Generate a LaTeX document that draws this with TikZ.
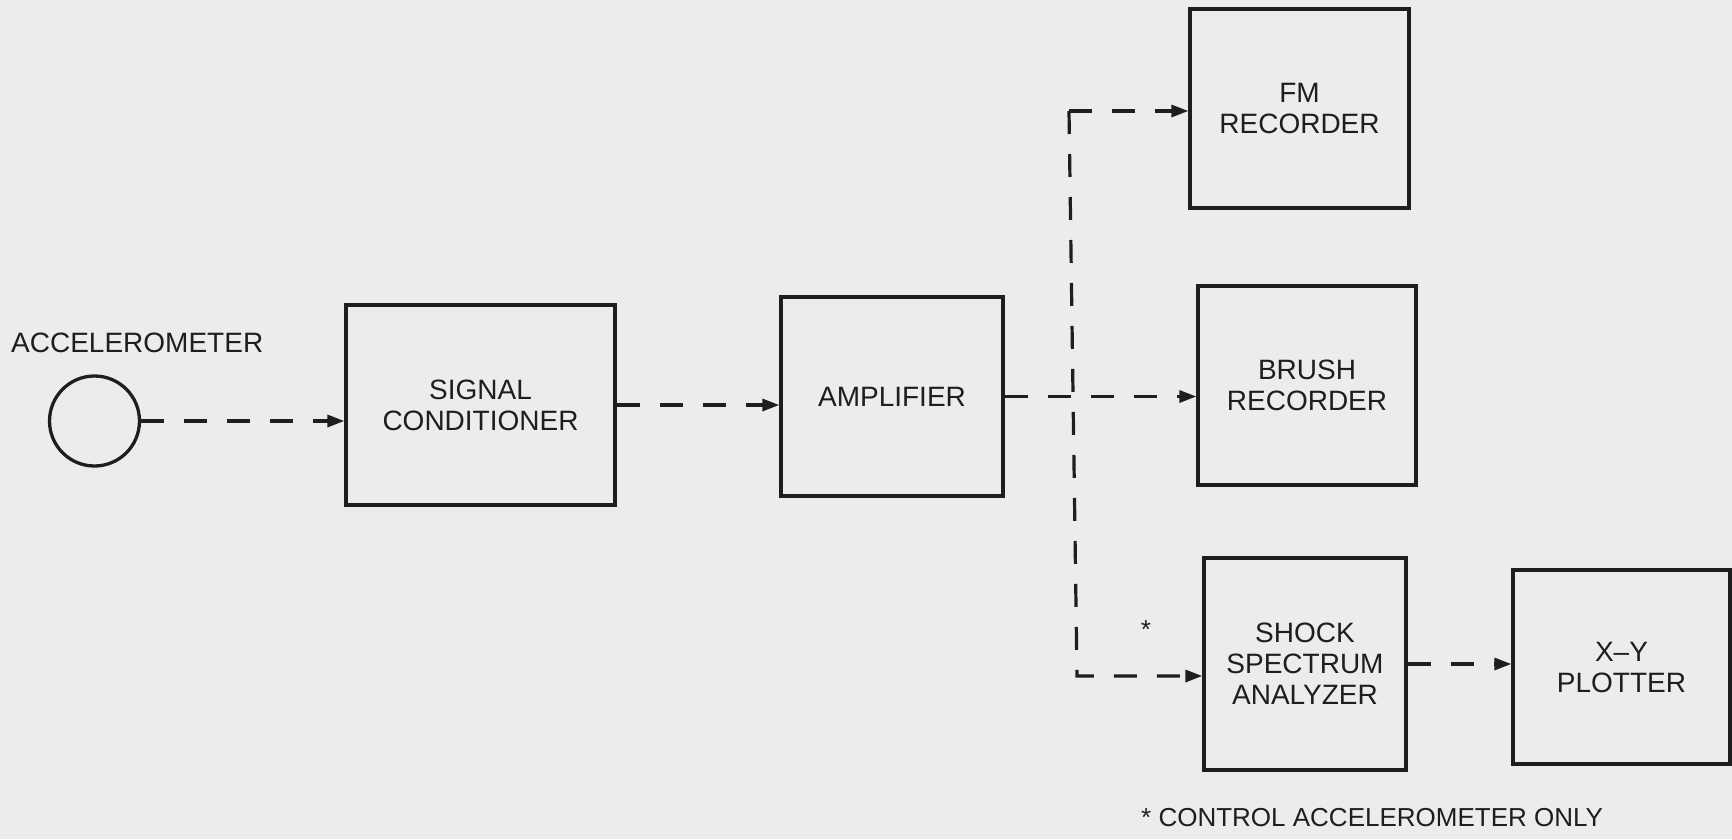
\documentclass[tikz,border=0pt]{standalone}
\usepackage{fontspec}
\setmainfont{Liberation Sans}
\usetikzlibrary{arrows.meta}
\definecolor{ink}{HTML}{1E1E1E}
\definecolor{paper}{HTML}{ECECEC}
\begin{document}
\begin{tikzpicture}[x=1pt,y=-1pt,
  lbl/.style={font=\fontsize{28}{31}\selectfont, text=ink, align=center, inner sep=0pt},
  blk/.style={lbl, draw=ink, line width=3.3pt},
  flowline/.style={draw=ink, line width=3.2pt, dash pattern=on 23pt off 20pt},
  flow/.style={flowline, -{Triangle[length=17pt,width=12pt]}},
  ]
\fill[paper] (0,0) rectangle (1732,839);
\useasboundingbox (0,0) rectangle (1732,839);

% nodes
\node[lbl, anchor=west] (acclbl) at (11,343) {ACCELEROMETER};
\node[draw=ink, line width=3.3pt, circle, minimum size=90pt, inner sep=0pt] (acc) at (94.5,421) {};
\node[blk, minimum width=269pt, minimum height=200pt] (sc) at (480.5,405) {SIGNAL\\CONDITIONER};
\node[blk, minimum width=222pt, minimum height=199pt] (amp) at (892,396.5) {AMPLIFIER};
\node[blk, minimum width=219pt, minimum height=199pt] (fm) at (1299.5,108.5) {FM\\RECORDER};
\node[blk, minimum width=218pt, minimum height=199pt] (brush) at (1307,385.5) {BRUSH\\RECORDER};
\node[blk, minimum width=202pt, minimum height=212pt] (shock) at (1305,664) {SHOCK\\SPECTRUM\\ANALYZER};
\node[blk, minimum width=217pt, minimum height=194pt] (xy) at (1621.5,667) {X--Y\\PLOTTER};
\node[lbl, font=\fontsize{26}{30}\selectfont] (mark) at (1146,630) {*};
\node[lbl, font=\fontsize{26}{30}\selectfont, anchor=west] (note) at (1141,818) {* CONTROL ACCELEROMETER ONLY};

\coordinate (top) at (1069,111);
\coordinate (bot) at (1077,676);

% connectors
\draw[flow] (acc.east) -- (acc.east -| sc.west);
\draw[flow] (sc.east) -- (sc.east -| amp.west);
\draw[flow] (amp.east) -- (amp.east -| brush.west);
\draw[flow] (top) -- (top -| fm.west);
\draw[flow] (top) -- (bot) -- (bot -| shock.west);
\draw[flow] (shock.east) -- (shock.east -| xy.west);
\end{tikzpicture}
\end{document}
